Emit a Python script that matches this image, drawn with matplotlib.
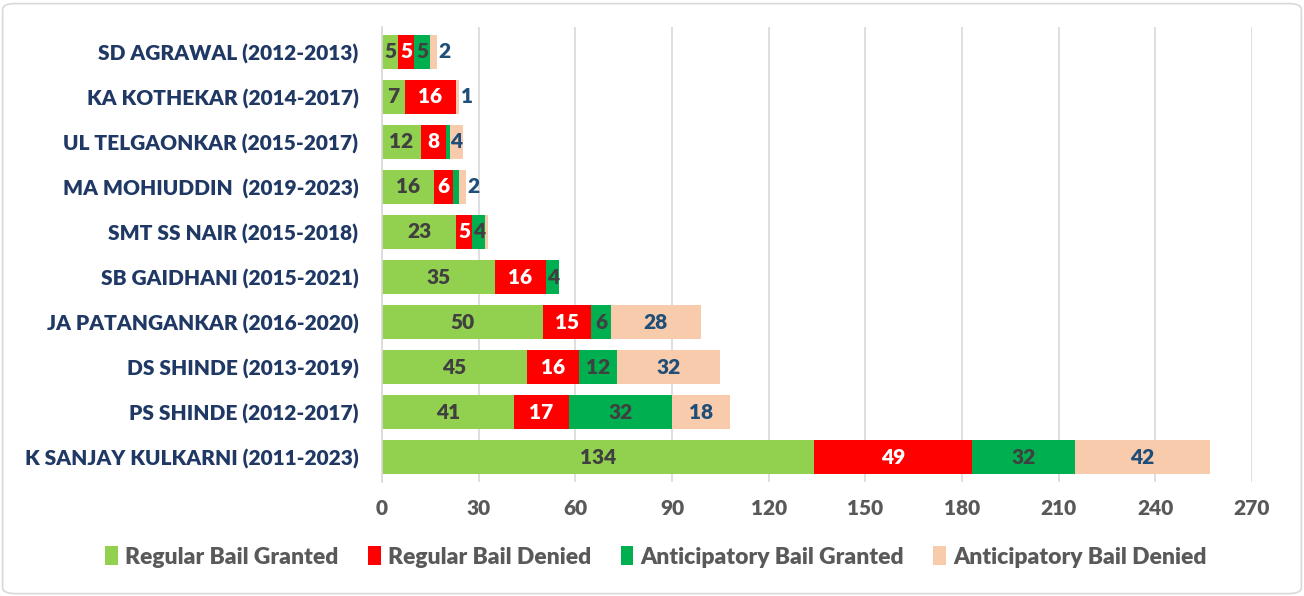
import matplotlib
matplotlib.use("Agg")
import matplotlib.pyplot as plt
from matplotlib.patches import FancyBboxPatch

judges = ["SD AGRAWAL (2012-2013)", "KA KOTHEKAR (2014-2017)", "UL TELGAONKAR (2015-2017)",
          "MA MOHIUDDIN  (2019-2023)", "SMT SS NAIR (2015-2018)", "SB GAIDHANI (2015-2021)",
          "JA PATANGANKAR (2016-2020)", "DS SHINDE (2013-2019)", "PS SHINDE (2012-2017)",
          "K SANJAY KULKARNI (2011-2023)"]
regular_granted = [5, 7, 12, 16, 23, 35, 50, 45, 41, 134]
regular_denied = [5, 16, 8, 6, 5, 16, 15, 16, 17, 49]
antic_granted = [5, 0, 1, 2, 4, 4, 6, 12, 32, 32]
antic_denied = [2, 1, 4, 2, 1, 0, 28, 32, 18, 42]
series_names = ["Regular Bail Granted", "Regular Bail Denied",
                "Anticipatory Bail Granted", "Anticipatory Bail Denied"]
xticks = [0, 30, 60, 90, 120, 150, 180, 210, 240, 270]

colors = ["#92D050", "#FF0000", "#00B050", "#F8CBAD"]
label_colors = ["#404040", "#FFFFFF", "#404040", "#1F4E79"]
# labels hidden in the reference (judge index, series index)
hidden = {(2, 2), (3, 2), (4, 3), (1, 2), (5, 3)}

plt.rcParams['font.family'] = ['Lato', 'DejaVu Sans']
fig = plt.figure(figsize=(13.04, 5.96), dpi=100)
ax = fig.add_axes([382/1304, 1 - 482/596, (1252 - 382)/1304, (482 - 27)/596])

data = [regular_granted, regular_denied, antic_granted, antic_denied]
ypos = list(range(len(judges)))[::-1]
left = [0] * len(judges)
for s, vals in enumerate(data):
    bars = ax.barh(ypos, vals, left=left, height=0.76, color=colors[s],
                   label=series_names[s], zorder=2)
    for j, (b, v) in enumerate(zip(bars, vals)):
        if v == 0 or (j, s) in hidden:
            continue
        x = left[j] + v / 2
        if s == 3 and v <= 2:
            x = left[j] + v + 2.4
        ax.text(x, ypos[j], str(v), ha="center", va="center",
                color=label_colors[s], fontsize=15, fontweight="heavy", zorder=3)
    left = [l + v for l, v in zip(left, vals)]

ax.set_xlim(0, 270)
ax.set_ylim(-0.55, len(judges) - 0.45)
ax.set_xticks(xticks)
ax.set_xticklabels([str(t) for t in xticks], fontsize=15, color="#595959", fontweight="heavy")
ax.set_yticks(ypos)
ax.set_yticklabels(judges, fontsize=15, color="#1F3864", fontweight="heavy")
ax.tick_params(axis="x", length=0, pad=12)
ax.tick_params(axis="y", length=0, pad=17)
ax.grid(axis="x", color="#D9D9D9", linewidth=1.2, zorder=0)
for sp in ["top", "right", "bottom"]:
    ax.spines[sp].set_visible(False)
ax.spines["left"].set_color("#D9D9D9")
ax.spines["left"].set_linewidth(1.2)

leg = fig.legend(loc="center", bbox_to_anchor=(0.503, 1 - 557/596), ncol=4, frameon=False,
                 fontsize=16.5, handlelength=0.55, handleheight=0.85, handletextpad=0.3,
                 columnspacing=1.3)
for t in leg.get_texts():
    t.set_color("#595959")
    t.set_fontweight("heavy")

border = FancyBboxPatch((0.002, 0.004), 0.996, 0.99, boxstyle="round,pad=0,rounding_size=0.01",
                        transform=fig.transFigure, fill=False, edgecolor="#D9D9D9", linewidth=1.2)
fig.patches.append(border)

fig.savefig("out.png", dpi=100)
